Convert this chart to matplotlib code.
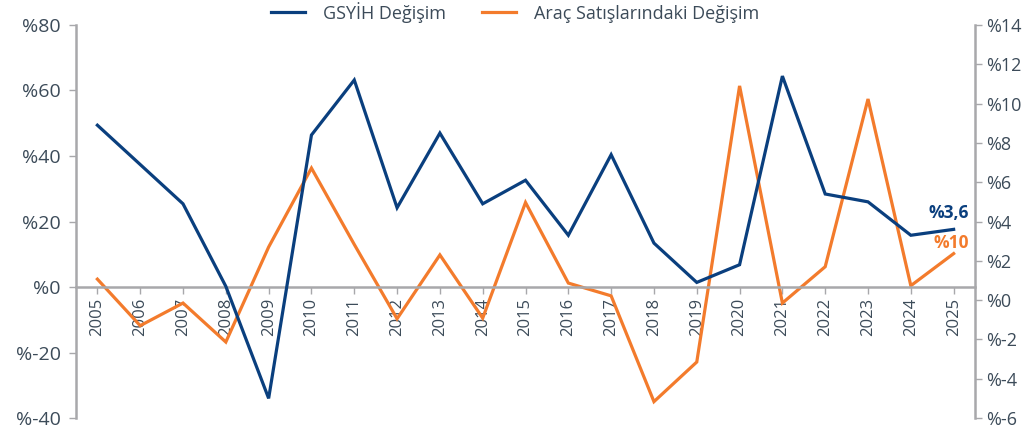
import matplotlib
matplotlib.use("Agg")
import matplotlib.pyplot as plt
from matplotlib.ticker import FuncFormatter

years = [str(y) for y in range(2005, 2026)]
gdp_change = [8.9, 6.9, 4.9, 0.7, -5.0, 8.4, 11.2, 4.7, 8.5, 4.9, 6.1,
              3.3, 7.4, 2.9, 0.9, 1.8, 11.4, 5.4, 5.0, 3.3, 3.6]
car_sales_change = [2.4, -11.8, -4.9, -16.8, 12.2, 36.3, 13.0, -9.7, 9.8, -9.5, 25.8,
                    1.2, -2.7, -35.0, -22.9, 61.4, -4.9, 6.2, 57.4, 0.4, 10.2]

BLUE = "#0a3f7e"
ORANGE = "#f37b2c"
GREY = "#a8a8ab"
TEXT = "#3c4b59"

plt.rcParams["font.family"] = ["Open Sans", "DejaVu Sans"]

fig = plt.figure(figsize=(10.24, 4.33), dpi=100)
ax = fig.add_axes([0.0742, 0.0346, 0.878, 0.9077])
ax2 = ax.twinx()

x = list(range(len(years)))
ax.plot(x, car_sales_change, color=ORANGE, linewidth=2.3, solid_joinstyle="miter",
        label="Araç Satışlarındaki Değişim")
ax2.plot(x, gdp_change, color=BLUE, linewidth=2.3, solid_joinstyle="miter",
         label="GSYİH Değişim")

# move the x axis onto the left-axis zero line before styling ticks
ax.spines["bottom"].set_position(("data", 0))

ax.set_xlim(-0.5, 20.5)
ax.set_ylim(-40, 80)
ax2.set_ylim(-6, 14)
ax.set_yticks(range(-40, 81, 20))
ax2.set_yticks(range(-6, 15, 2))

pct = FuncFormatter(lambda v, _: f"%{int(v)}")
ax.yaxis.set_major_formatter(pct)
ax2.yaxis.set_major_formatter(pct)

ax.set_xticks(x)
ax.set_xticklabels(years, rotation=90, fontsize=12, color=TEXT)

for a in (ax, ax2):
    a.spines["top"].set_visible(False)
    for s in ("left", "right", "bottom"):
        a.spines[s].set_color(GREY)
        a.spines[s].set_linewidth(1.8)
ax.spines["right"].set_visible(False)
ax2.spines["left"].set_visible(False)
ax2.spines["bottom"].set_visible(False)

ax.tick_params(axis="y", colors=GREY, labelcolor=TEXT, labelsize=14, length=5, width=1, pad=6)
ax2.tick_params(axis="y", colors=GREY, labelcolor=TEXT, labelsize=13, length=5, width=1, pad=3)
ax.tick_params(axis="x", colors=GREY, labelcolor=TEXT, length=5, width=1, pad=3)

ax2.text(20.35, 4.45, "%3,6", color=BLUE, fontsize=12.5, fontweight="bold",
         ha="right", va="center")
ax.text(20.35, 13.4, "%10", color=ORANGE, fontsize=12.5, fontweight="bold",
        ha="right", va="center")

h1, l1 = ax2.get_legend_handles_labels()
h2, l2 = ax.get_legend_handles_labels()
fig.legend(h1 + h2, l1 + l2, loc="center", bbox_to_anchor=(0.503, 0.972), ncol=2,
           frameon=False, fontsize=13, handlelength=1.9, handletextpad=1.0,
           columnspacing=2.0, labelcolor=TEXT)

fig.savefig("out.png", dpi=100)
